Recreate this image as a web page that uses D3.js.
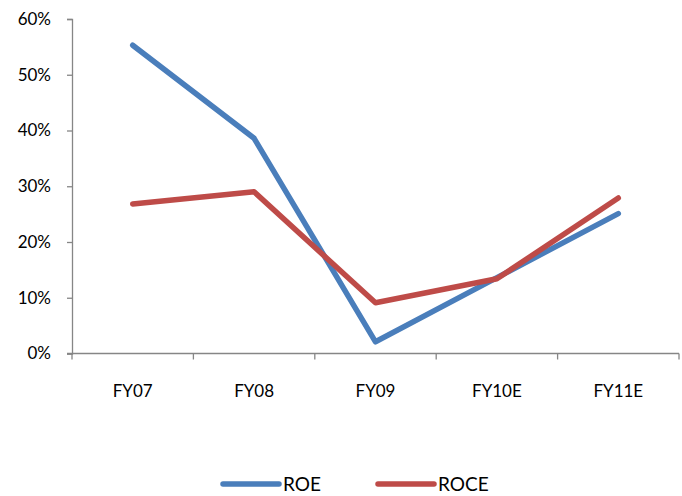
<!DOCTYPE html>
<html><head><meta charset="utf-8">
<script src="https://cdn.jsdelivr.net/npm/d3@7"></script>
<style>body{margin:0;background:#fff}svg{display:block}text{font-family:Lato,"Open Sans",sans-serif;fill:#000}</style>
</head><body><svg id="c" width="682" height="496"></svg>
<script>
const categories = ["FY07","FY08","FY09","FY10E","FY11E"];
const roe = [55.3, 38.6, 2.1, 13.6, 25.1];
const roce = [26.8, 29.0, 9.1, 13.4, 27.9];
const yTicks = [0,10,20,30,40,50,60];
const seriesNames = ["ROE","ROCE"];
const colors = ["#4A7EBB","#BE4B48"];

(function(){
const svg = d3.select("#c");
const mLeft = 72, mRight = 679, mTop = 19, mBottom = 353.5;
const x = d3.scaleBand().domain(categories).range([mLeft, mRight]);
const y = d3.scaleLinear().domain([0,60]).range([mBottom, mTop]);

const yAxis = svg.append("g").attr("transform",`translate(${mLeft},0)`)
  .call(d3.axisLeft(y).tickValues(yTicks).tickFormat(d=>d+"%").tickSize(5).tickPadding(16));
yAxis.select(".domain").attr("stroke","#868686").attr("stroke-width",1.3);
yAxis.selectAll(".tick line").attr("stroke","#868686").attr("stroke-width",1.3);
yAxis.selectAll("text").attr("font-size",17).attr("fill","#000").attr("font-family","Lato, sans-serif");

const xAxis = svg.append("g").attr("transform",`translate(0,${mBottom})`)
  .call(d3.axisBottom(x).tickSize(0).tickPadding(31));
xAxis.select(".domain").remove();
xAxis.selectAll("text").attr("font-size",17).attr("fill","#000").attr("font-family","Lato, sans-serif");
svg.append("line").attr("x1",mLeft-5).attr("x2",mRight).attr("y1",mBottom).attr("y2",mBottom)
  .attr("stroke","#868686").attr("stroke-width",1.3);
const bounds = categories.map(c=>x(c)).concat([x(categories[categories.length-1])+x.bandwidth()]);
svg.selectAll(".xt").data(bounds).enter().append("line")
  .attr("x1",d=>d).attr("x2",d=>d).attr("y1",mBottom).attr("y2",mBottom+6)
  .attr("stroke","#868686").attr("stroke-width",1.3);

const line = d3.line().x((d,i)=>x(categories[i])+x.bandwidth()/2).y(d=>y(d));
[roe, roce].forEach((s,k)=>{
  svg.append("path").datum(s).attr("d",line).attr("fill","none")
    .attr("stroke",colors[k]).attr("stroke-width",5.5)
    .attr("stroke-linecap","round").attr("stroke-linejoin","round");
});

const legX = [223, 378];
seriesNames.forEach((n,k)=>{
  svg.append("line").attr("x1",legX[k]).attr("x2",legX[k]+56).attr("y1",484).attr("y2",484)
    .attr("stroke",colors[k]).attr("stroke-width",5.5).attr("stroke-linecap","round");
  svg.append("text").attr("x",legX[k]+60).attr("y",491).attr("font-size",19).text(n);
});
})();
</script></body></html>
